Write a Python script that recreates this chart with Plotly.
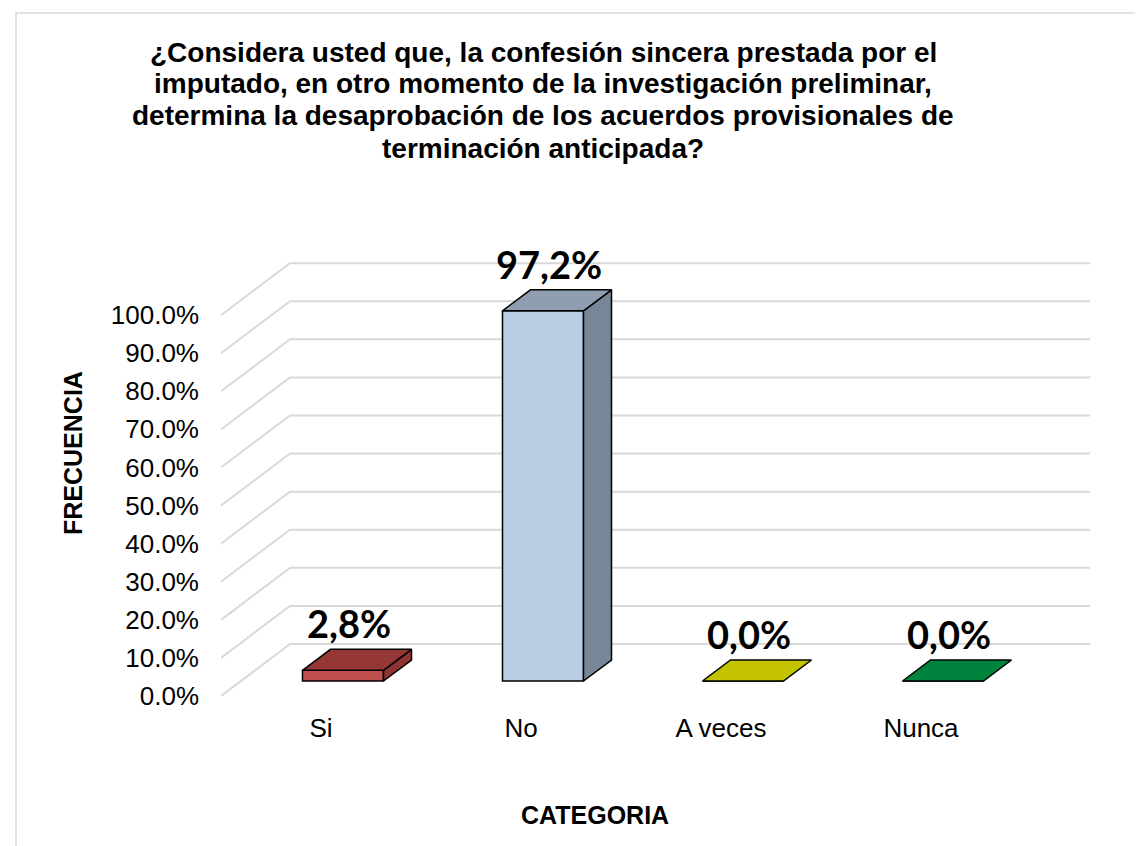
import plotly.graph_objects as go

# ---------------- data ----------------
categories = ["Si", "No", "A veces", "Nunca"]
values = [2.8, 97.2, 0.0, 0.0]
value_labels = ["2,8%", "97,2%", "0,0%", "0,0%"]
y_ticks = [0, 10, 20, 30, 40, 50, 60, 70, 80, 90, 100]
y_tick_text = ["%.1f%%" % t for t in y_ticks]
title_lines = [
    "¿Considera usted que, la confesión sincera prestada por el",
    "imputado, en otro momento de la investigación preliminar,",
    "determina la desaprobación de los acuerdos provisionales de",
    "terminación anticipada?",
]
x_title = "CATEGORIA"
y_title = "FRECUENCIA"

# ---------------- style ----------------
front_colors = ["#C0504D", "#B9CDE5", "#C8C800", "#00853F"]
top_colors = ["#943735", "#8E9DB0", "#C3C300", "#00843D"]
side_colors = ["#8E3533", "#778797", "#A8A800", "#006B32"]
grid_color = "#D9D9D9"

FIG_W, FIG_H = 1143, 846
L, R, T, B = 213, 60, 250, 158
PW, PH = FIG_W - L - R, FIG_H - T - B
X_MIN, X_MAX = -0.5, 3.85
Y_MIN, Y_MAX = 0, 115
XPX = PW / (X_MAX - X_MIN)
YPX = PH / (Y_MAX - Y_MIN)

# 3D projection offsets (in axis units)
WALL_DX, WALL_DY = 69 / XPX, 52 / YPX      # depth of the back wall
BAR_FX, BAR_FY = 22 / XPX, 15 / YPX        # bar front plane offset from front floor edge
BAR_DX, BAR_DY = 28 / XPX, 21 / YPX        # bar depth
BAR_W = 81 / XPX
LABEL_GAP = 22 / YPX


def paper_x(px):
    return (px - L) / PW


def paper_y(py):
    return (FIG_H - B - py) / PH


fig = go.Figure()

# gridlines: side wall diagonals + back wall horizontals
shapes = []
for t in y_ticks:
    x0 = X_MIN
    shapes.append(dict(type="line", xref="x", yref="y", x0=x0, y0=t,
                       x1=x0 + WALL_DX, y1=t + WALL_DY,
                       line=dict(color=grid_color, width=2), layer="below"))
    shapes.append(dict(type="line", xref="x", yref="y", x0=x0 + WALL_DX, y0=t + WALL_DY,
                       x1=X_MIN + 4 + WALL_DX, y1=t + WALL_DY,
                       line=dict(color=grid_color, width=2), layer="below"))

# chart border
shapes.append(dict(type="rect", xref="paper", yref="paper",
                   x0=paper_x(8), x1=paper_x(1142), y0=paper_y(5), y1=paper_y(850),
                   line=dict(color="#D9D9D9", width=1.5), layer="below"))

# front faces of bars
centers = [i + BAR_FX for i in range(len(categories))]
fig.add_trace(go.Bar(
    x=centers, y=values, base=[BAR_FY] * len(values), width=BAR_W,
    marker=dict(color=front_colors, line=dict(color="black", width=1.5)),
    hoverinfo="skip", showlegend=False,
))

# side and top faces
for i, v in enumerate(values):
    xc = centers[i]
    x0, x1 = xc - BAR_W / 2, xc + BAR_W / 2
    yb, yt = BAR_FY, BAR_FY + v
    if v > 0:
        fig.add_trace(go.Scatter(
            x=[x1, x1 + BAR_DX, x1 + BAR_DX, x1, x1],
            y=[yb, yb + BAR_DY, yt + BAR_DY, yt, yb],
            mode="lines", fill="toself", fillcolor=side_colors[i],
            line=dict(color="black", width=1.5), hoverinfo="skip", showlegend=False,
        ))
    fig.add_trace(go.Scatter(
        x=[x0, x1, x1 + BAR_DX, x0 + BAR_DX, x0],
        y=[yt, yt, yt + BAR_DY, yt + BAR_DY, yt],
        mode="lines", fill="toself", fillcolor=top_colors[i],
        line=dict(color="black", width=1.5), hoverinfo="skip", showlegend=False,
    ))

annotations = []
# data labels
for i, v in enumerate(values):
    annotations.append(dict(
        x=centers[i] + 0.03, y=BAR_FY + v + LABEL_GAP, xref="x", yref="y",
        text="<b>%s</b>" % value_labels[i], showarrow=False, yanchor="bottom",
        font=dict(family="Lato, Carlito, sans-serif", size=38, color="black"),
    ))

# title lines
for k, line in enumerate(title_lines):
    annotations.append(dict(
        x=paper_x(535), y=paper_y(44 + 32 * k), xref="paper", yref="paper",
        text="<b>%s</b>" % line, showarrow=False, xanchor="center", yanchor="middle",
        font=dict(family="Liberation Sans, Arial, sans-serif", size=28, color="black"),
    ))

# axis titles
annotations.append(dict(
    x=paper_x(65), y=paper_y(445), xref="paper", yref="paper",
    text="<b>%s</b>" % y_title, showarrow=False, textangle=-90,
    xanchor="center", yanchor="middle",
    font=dict(family="Liberation Sans, Arial, sans-serif", size=25, color="black"),
))
annotations.append(dict(
    x=paper_x(587), y=paper_y(807), xref="paper", yref="paper",
    text="<b>%s</b>" % x_title, showarrow=False,
    xanchor="center", yanchor="middle",
    font=dict(family="Liberation Sans, Arial, sans-serif", size=25, color="black"),
))

fig.update_layout(
    width=FIG_W, height=FIG_H, autosize=False,
    margin=dict(l=L, r=R, t=T, b=B, pad=0),
    paper_bgcolor="white", plot_bgcolor="white",
    shapes=shapes, annotations=annotations,
    showlegend=False,
    xaxis=dict(range=[X_MIN, X_MAX], tickmode="array",
               tickvals=list(range(len(categories))), ticktext=categories,
               showgrid=False, zeroline=False, showline=False, ticks="",
               ticklabelstandoff=14,
               tickfont=dict(family="Liberation Sans, Arial, sans-serif", size=26, color="black")),
    yaxis=dict(range=[Y_MIN, Y_MAX], tickmode="array", tickvals=y_ticks, ticktext=y_tick_text,
               showgrid=False, zeroline=False, showline=False, ticks="",
               ticklabelstandoff=21,
               tickfont=dict(family="Liberation Sans, Arial, sans-serif", size=26, color="black")),
)

fig.write_html("out.html")
